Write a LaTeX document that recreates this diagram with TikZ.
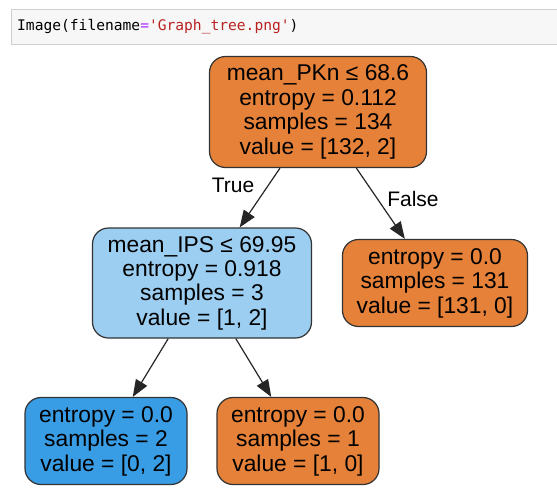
\documentclass[tikz,border=0pt]{standalone}
\usepackage{fontspec}
\setmainfont{Liberation Sans}
\setmonofont{DejaVu Sans Mono}
\usepackage{tikz}
\usetikzlibrary{arrows.meta, positioning}
\definecolor{classA}{HTML}{E58139}
\definecolor{classB}{HTML}{399DE5}
\definecolor{mixB}{HTML}{9CCEF2}
\definecolor{cellbg}{HTML}{F7F7F7}
\definecolor{cellframe}{HTML}{CFCFCF}
\definecolor{pystr}{HTML}{BA2121}
\definecolor{pyop}{HTML}{AA22FF}
\tikzstyle{treenode} = [rectangle, rounded corners=16pt, draw=black!80, line width=1.2pt, align=center, inner sep=0pt, font=\fontsize{22.8}{24.4}\selectfont]
\tikzstyle{split} = [treenode, minimum width=219pt, minimum height=110pt]
\tikzstyle{leaf} = [treenode, minimum height=87pt]
\tikzstyle{edgelabel} = [inner sep=0pt, font=\fontsize{21}{24}\selectfont]
\tikzstyle{edge} = [draw=black!85, line width=1.2pt, -{Triangle[length=17pt, width=13pt]}]

\begin{document}
\begin{tikzpicture}[x=1pt, y=-1pt, node distance=160pt]
\useasboundingbox (0,0) rectangle (557,491);
\fill[white] (0,0) rectangle (557,491);
% notebook cell
\draw[fill=cellbg, draw=cellframe, line width=0.8pt] (11,9.5) rectangle (570,44.5);
\node (cell) [anchor=west, inner sep=0pt, font=\fontsize{14.6}{16}\selectfont\ttfamily] at (17,27)
  {Image(filename\textcolor{pyop}{=}\textcolor{pystr}{'Graph\_tree.png'})};
% tree
\node (root) [split, fill=classA, minimum width=217pt, minimum height=111pt] at (318,112)
  {mean\_PKn ≤ 68.6\\entropy = 0.112\\samples = 134\\value = [132, 2]};
\node (ips) [split, fill=mixB, below of=root, xshift=-116pt, yshift=-11pt]
  {mean\_IPS ≤ 69.95\\entropy = 0.918\\samples = 3\\value = [1, 2]};
\node (pure) [leaf, fill=classA, minimum width=185pt, below of=root, xshift=117pt, yshift=-11pt]
  {entropy = 0.0\\samples = 131\\value = [131, 0]};
\node (leafB) [leaf, fill=classB, minimum width=162pt, below of=ips, xshift=-96pt, yshift=2pt]
  {entropy = 0.0\\samples = 2\\value = [0, 2]};
\node (leafA) [leaf, fill=classA, minimum width=162pt, below of=ips, xshift=96pt, yshift=2pt]
  {entropy = 0.0\\samples = 1\\value = [1, 0]};
\node (true) [edgelabel] at (233,185) {True};
\node (false) [edgelabel] at (413,199) {False};
\draw[edge] (root) -- (ips);
\draw[edge] (root) -- (pure);
\draw[edge] (ips) -- (leafB);
\draw[edge] (ips) -- (leafA);
\end{tikzpicture}
\end{document}
